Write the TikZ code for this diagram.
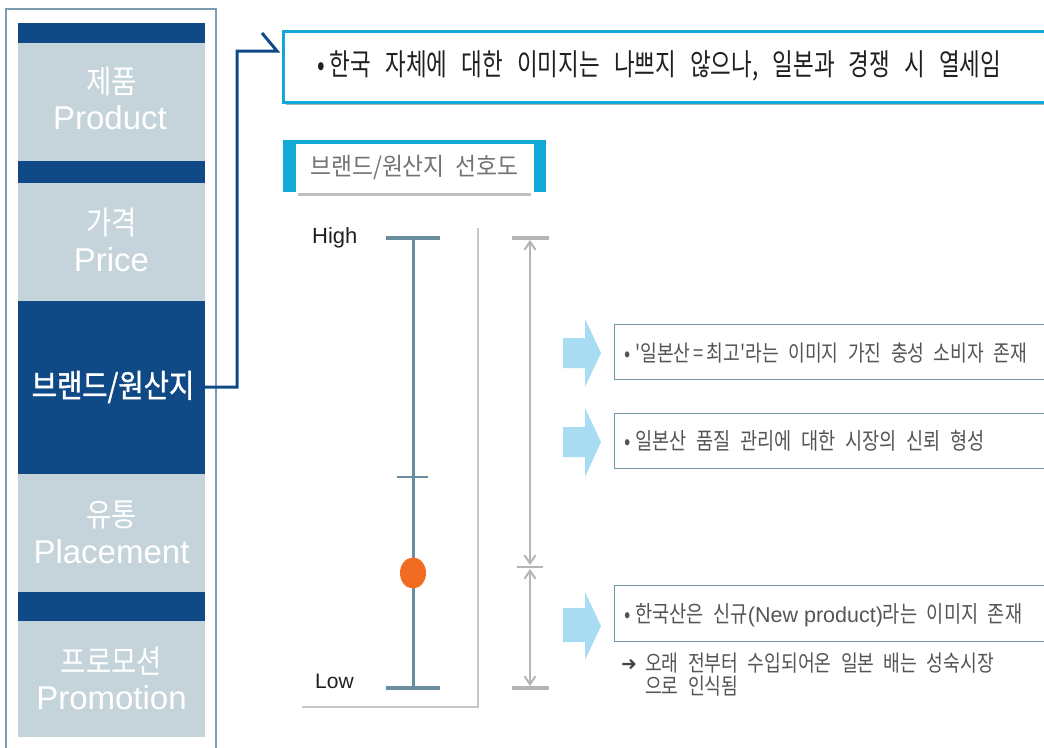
\documentclass[tikz,border=0pt]{standalone}
\usepackage{fontspec}
\setmainfont{Liberation Sans}
\newfontfamily\krlab[FakeStretch=0.86,Ligatures=TeXOff]{Noto Sans CJK KR}
\newfontfamily\krlabb[FakeStretch=0.86,FakeBold=1.2,Ligatures=TeXOff]{Noto Sans CJK KR}
\newfontfamily\krtop[FakeStretch=0.75,WordSpace=2.8,Ligatures=TeXOff]{Noto Sans CJK KR}
\newfontfamily\krtitle[FakeStretch=0.93,WordSpace=2,Ligatures=TeXOff]{Noto Sans CJK KR}
\newfontfamily\krbox[FakeStretch=0.81,WordSpace=2.3,Ligatures=TeXOff]{Noto Sans CJK KR}
\newfontfamily\dv{DejaVu Sans}
\usetikzlibrary{arrows.meta}
\newcommand\myfs[1]{\fontsize{#1}{#1}\selectfont}
\newcommand\lat[1]{{\fontspec{Liberation Sans}\fontsize{21.5}{21.5}\selectfont #1}}
\definecolor{dblue}{HTML}{0F4A86}
\definecolor{lgb}{HTML}{C5D4DB}
\definecolor{framec}{HTML}{7A9BB0}
\definecolor{cyanc}{HTML}{12A8D8}
\definecolor{steel}{HTML}{6A8E9E}
\definecolor{orng}{HTML}{F26B22}
\definecolor{dimg}{HTML}{B5B5B5}
\definecolor{lblue}{HTML}{A7DCF2}
\definecolor{boxb}{HTML}{7396A6}
\definecolor{txtg}{HTML}{555555}
\definecolor{txtd}{HTML}{231F20}
\definecolor{shadowc}{HTML}{A9B5BC}
\tikzset{
  panel/.style={rectangle, inner sep=0, outer sep=0, anchor=north west, minimum width=187pt},
  lightbox/.style={panel, fill=lgb},
  darkbox/.style={panel, fill=dblue},
  krlbl/.style={inner sep=0, text=white, font=\krlab\myfs{32}},
  enlbl/.style={inner sep=0, text=white, font=\myfs{33}, anchor=base},
  conn/.style={dblue, line width=3pt, line join=miter},
  bulletbox/.style={rectangle, draw=boxb, line width=1.4pt, anchor=north west, minimum width=440pt, inner sep=0},
  btext/.style={inner sep=0, anchor=west, text=txtg, font=\krbox\myfs{23}},
  blockarrow/.style={fill=lblue},
  scaleline/.style={steel},
  dimline/.style={dimg},
  dimarrow/.style={dimg, line width=2pt, {Straight Barb[length=8pt,width=11pt,line width=2pt]}-{Straight Barb[length=8pt,width=11pt,line width=2pt]}}
}
\begin{document}
\begin{tikzpicture}[x=1pt,y=-1pt]
\useasboundingbox (0,0) rectangle (1044,747);
\clip (0,0) rectangle (1044,747);
\fill[white] (0,0) rectangle (1044,747);

% ---------- left panel ----------
\draw[framec, line width=1.2pt] (6,9) rectangle (216,760);
\node[darkbox, minimum height=20pt] (bar1) at (18,23) {};
\node[lightbox, minimum height=118pt] (prod) at (18,43) {};
\node[darkbox, minimum height=22pt] (bar2) at (18,161) {};
\node[lightbox, minimum height=118pt] (price) at (18,183) {};
\node[darkbox, minimum height=173pt] (brand) at (18,301) {};
\node[lightbox, minimum height=118pt] (place) at (18,474) {};
\node[darkbox, minimum height=29pt] (bar3) at (18,592) {};
\node[lightbox, minimum height=116pt] (promo) at (18,621) {};

\node[krlbl] (prodk) at (111.5,82) {제품};
\node[enlbl] (prode) at (110,129) {Product};
\node[krlbl] (pricek) at (111.5,222) {가격};
\node[enlbl] (pricee) at (111.5,271) {Price};
\node[krlbl, font=\krlabb\myfs{32}] (brandk) at (113,387) {브랜드/원산지};
\node[krlbl] (placek) at (111.5,515) {유통};
\node[enlbl] (placee) at (111.5,563) {Placement};
\node[krlbl] (promok) at (111.5,661) {프로모션};
\node[enlbl] (promoe) at (111.5,709) {Promotion};

% ---------- top message box ----------
\fill[shadowc] (286,34) rectangle (1060,105);
\node[rectangle, draw=cyanc, fill=white, line width=2.5pt, anchor=north west,
      minimum width=778pt, minimum height=71pt, inner sep=0] (top) at (282,30) {};
\node[inner sep=0, anchor=west, text=txtd, font=\krtop\myfs{30}] (toptext) at (317,66)
  {•\hspace{5pt}한국 자체에 대한 이미지는 나쁘지 않으나, 일본과 경쟁 시 열세임};

% connector
\coordinate (cA) at (237,51);
\coordinate (cB) at (277,51);
\coordinate (cC) at (262,33);
\draw[conn] (brand.east |- 0,387) -| (cA) -- (cB) -- (cC);

% ---------- title ----------
\fill[cyanc] (283,140) rectangle (546,192);
\fill[white] (296,144) rectangle (534,196);
\draw[color=black!25, line width=2.5pt] (298,194.5) -- (531,194.5);
\node[inner sep=0, anchor=west, text=black!55, font=\krtitle\myfs{24.5}] (title) at (310,168)
  {브랜드/원산지 선호도};

% ---------- scale ----------
\draw[black!22, line width=1.2pt] (478,228) -- (478,707) -- (302,707);
\draw[scaleline, line width=3pt] (413,238) -- (413,688);
\draw[scaleline, line width=4pt] (386,238) -- (440,238);
\draw[scaleline, line width=4pt] (386,688) -- (440,688);
\draw[scaleline, line width=2pt] (397,477) -- (428,477);
\fill[orng] (413,573) ellipse [x radius=13, y radius=15.5];
\node[inner sep=0, anchor=base west, text=txtd, font=\myfs{22}] (high) at (312,243) {High};
\node[inner sep=0, anchor=base west, text=txtd, font=\myfs{21}] (low) at (315,688) {Low};

% dimension
\draw[dimline, line width=4pt] (512,238) -- (549,238);
\draw[dimline, line width=4pt] (512,688) -- (549,688);
\draw[dimline, line width=2pt] (517,567) -- (543,567);
\draw[dimarrow] (530,240) -- (530,565);
\draw[dimarrow] (530,569) -- (530,686);

% ---------- block arrows ----------
\fill[blockarrow] (563,338) -- (585,338) -- (585,319) -- (601,353) -- (585,387) -- (585,368) -- (563,368) -- cycle;
\fill[blockarrow] (563,427) -- (585,427) -- (585,408) -- (601,442) -- (585,477) -- (585,457) -- (563,457) -- cycle;
\fill[blockarrow] (563,608) -- (585,608) -- (585,592) -- (601,626) -- (585,660) -- (585,642) -- (563,642) -- cycle;

% ---------- bullet boxes ----------
\node[bulletbox, minimum height=55pt] (b1) at (614,324) {};
\node[btext, font=\krbox\myfs{22.5}] (b1t) at (624,353) {•\hspace{5pt}'일본산\hspace{3pt}=\hspace{3pt}최고'라는 이미지 가진 충성 소비자 존재};
\node[bulletbox, minimum height=55pt] (b2) at (614,413) {};
\node[btext] (b2t) at (624,441) {•\hspace{5pt}일본산 품질 관리에 대한 시장의 신뢰 형성};
\node[bulletbox, minimum height=56pt] (b3) at (614,585) {};
\node[btext] (b3t) at (624,615) {•\hspace{5pt}한국산은 신규\lat{(New product)}라는 이미지 존재};

\node[inner sep=0, anchor=west, text=txtg!80!black, font=\dv\myfs{19}] (narr) at (621,665) {➜};
\node[btext, font=\krbox\myfs{22.5}] (n1) at (645,663) {오래 전부터 수입되어온 일본 배는 성숙시장};
\node[btext, font=\krbox\myfs{22.5}] (n2) at (645,686) {으로 인식됨};
\end{tikzpicture}
\end{document}
